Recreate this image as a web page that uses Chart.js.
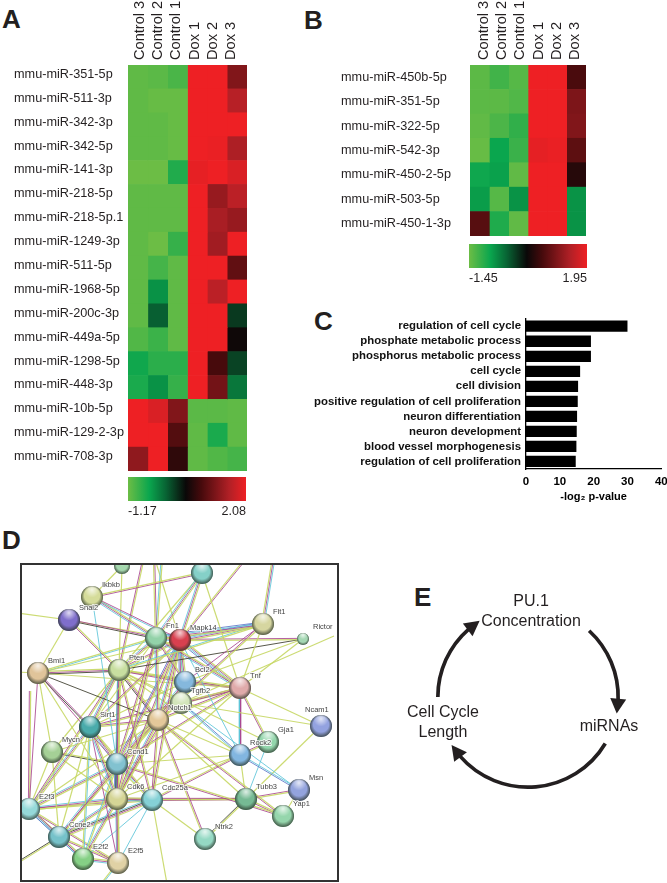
<!DOCTYPE html>
<html>
<head>
<meta charset="utf-8">
<script src="https://cdn.jsdelivr.net/npm/chart.js@4"></script>
<style>
    html, body { margin: 0; padding: 0; background: #fff; width: 667px; height: 883px; overflow: hidden; }
    body { position: relative; font-family: "Liberation Sans", Arial, sans-serif; color: #231f20; }
    canvas { position: absolute; display: block; }
    .letter { position: absolute; font-size: 26px; font-weight: bold; line-height: 26px; }
    .cycle-label { position: absolute; font-size: 16px; line-height: 20px; text-align: center; transform: translateX(-50%); white-space: nowrap; }
    #network-box { position: absolute; left: 20px; top: 563px; width: 319px; height: 319px; box-sizing: border-box; border: 2px solid #333; }
</style>
</head>
<body>
<div class="letter" style="left:2px;top:6px">A</div>
<div class="letter" style="left:304px;top:7px">B</div>
<div class="letter" style="left:314px;top:308px">C</div>
<div class="letter" style="left:2px;top:527px">D</div>
<div class="letter" style="left:414px;top:584px">E</div>

<canvas id="heat-a" width="233" height="491" style="left:14px;top:0"></canvas>
<canvas id="bar-a" width="150" height="46" style="left:113px;top:477px"></canvas>
<canvas id="heat-b" width="245" height="256" style="left:341px;top:0"></canvas>
<canvas id="bar-b" width="150" height="46" style="left:453px;top:244px"></canvas>
<canvas id="go-bars" width="380" height="194" style="left:300px;top:310px"></canvas>
<div id="network-box"><canvas id="network" width="315" height="315" style="left:0;top:0"></canvas></div>
<canvas id="cycle" width="200" height="200" style="left:428px;top:597px"></canvas>

<div class="cycle-label" style="left:531px;top:591px">PU.1<br>Concentration</div>
<div class="cycle-label" style="left:609px;top:716px">miRNAs</div>
<div class="cycle-label" style="left:443px;top:702px">Cell Cycle<br>Length</div>

<script>
Chart.defaults.animation = false;
Chart.defaults.font.family = '"Liberation Sans", Arial, sans-serif';
Chart.defaults.color = '#231f20';
Chart.defaults.plugins.legend.display = false;
Chart.defaults.plugins.tooltip.enabled = false;

const samples = ['Control 3', 'Control 2', 'Control 1', 'Dox 1', 'Dox 2', 'Dox 3'];

const rowsA = ['mmu-miR-351-5p', 'mmu-miR-511-3p', 'mmu-miR-342-3p', 'mmu-miR-342-5p', 'mmu-miR-141-3p',
    'mmu-miR-218-5p', 'mmu-miR-218-5p.1', 'mmu-miR-1249-3p', 'mmu-miR-511-5p', 'mmu-miR-1968-5p',
    'mmu-miR-200c-3p', 'mmu-miR-449a-5p', 'mmu-miR-1298-5p', 'mmu-miR-448-3p', 'mmu-miR-10b-5p',
    'mmu-miR-129-2-3p', 'mmu-miR-708-3p'];
const valuesA = [
    [-1.10, -1.07, -0.97, 2.08, 2.08, 1.27],
    [-1.10, -1.14, -1.14, 2.08, 2.08, 1.66],
    [-1.10, -1.10, -1.14, 2.08, 2.08, 2.08],
    [-1.10, -1.10, -1.14, 2.08, 2.05, 1.59],
    [-1.17, -1.17, -0.72, 2.02, 2.08, 1.92],
    [-1.10, -1.10, -1.10, 2.08, 1.43, 1.69],
    [-1.10, -1.10, -1.10, 2.08, 1.56, 1.43],
    [-1.10, -1.17, -0.85, 2.08, 1.50, 2.08],
    [-1.10, -0.94, -1.10, 2.08, 2.08, 1.04],
    [-1.10, -0.45, -1.10, 2.08, 1.69, 2.08],
    [-1.10, -0.10, -1.10, 2.08, 2.08, 0.13],
    [-1.01, -0.88, -1.10, 2.08, 2.08, 0.46],
    [-0.62, -0.78, -0.78, 2.08, 0.85, 0.07],
    [-0.68, -0.45, -0.85, 2.08, 1.17, -0.26],
    [2.08, 1.92, 1.27, -1.07, -1.07, -1.10],
    [2.08, 2.08, 0.94, -1.10, -0.68, -1.10],
    [1.37, 2.08, 0.68, -1.10, -1.01, -0.94]
];
const rangeA = [-1.17, 2.08];

const rowsB = ['mmu-miR-450b-5p', 'mmu-miR-351-5p', 'mmu-miR-322-5p', 'mmu-miR-542-3p',
    'mmu-miR-450-2-5p', 'mmu-miR-503-5p', 'mmu-miR-450-1-3p'];
const valuesB = [
    [-1.35, -1.18, -1.31, 1.95, 1.95, 0.69],
    [-1.35, -1.35, -1.28, 1.95, 1.95, 1.07],
    [-1.38, -1.25, -1.08, 1.95, 1.95, 1.10],
    [-1.42, -0.84, -1.14, 1.88, 1.92, 0.83],
    [-0.87, -0.80, -1.38, 1.95, 1.95, 0.42],
    [-0.77, -1.31, -0.70, 1.95, 1.95, -0.70],
    [0.79, -0.97, -1.38, 1.95, 1.95, -0.70]
];
const rangeB = [-1.45, 1.95];

const goTerms = ['regulation of cell cycle', 'phosphate metabolic process', 'phosphorus metabolic process',
    'cell cycle', 'cell division', 'positive regulation of cell proliferation', 'neuron differentiation',
    'neuron development', 'blood vessel morphogenesis', 'regulation of cell proliferation'];
const goValues = [30, 19.2, 19.2, 16, 15.4, 15.3, 15.1, 15, 14.9, 14.7];

// network layout, in units of the STRING box. names starting with _ have no label
const geneNames = ['_a', '_b', 'Ikbkb', 'Snai2', 'Fn1', 'Mapk14', 'Flt1', 'Rictor', 'Bmi1', 'Pten', 'Bcl2', 'Tgfb2', 'Tnf',
    'Sirt1', 'Notch1', 'Mycn', 'Ccnd1', 'Rock2', 'Gja1', 'Ncam1', 'Msn', 'Tubb3', 'Yap1', 'Ntrk2', 'Cdk6', 'Cdc25a',
    'E2f3', 'Ccne2', 'E2f2', 'E2f5'];
const geneX = [100, 180, 70, 47, 134, 158, 241, 281, 16, 97, 163, 159, 218, 68, 136, 30, 95, 218, 246, 299, 277, 224, 261, 183, 95, 130, 7, 37, 61, 96];
const geneY = [1, 8, 32, 55, 73, 75, 59, 74, 108, 105, 117, 138, 123, 162, 155, 187, 199, 190, 177, 161, 225, 234, 251, 274, 234, 235, 244, 272, 294, 298];
const geneColors = ['#a5d8ae', '#85d0c8', '#d5dc9a', '#7f6ecb', '#93d2a9', '#d8404f', '#d6d6a0', '#a5d8b4', '#e0c49a', '#c8dea0',
    '#85b8dd', '#d3e5bb', '#e0aaaa', '#4aabab', '#e3c89a', '#a5d096', '#82c2d0', '#82b6e0', '#93d6ac', '#93a2e0',
    '#93a3dd', '#76ba94', '#95d6ac', '#95d9c4', '#d5d596', '#85d1d6', '#95d9d9', '#76c2ca', '#85d085', '#e0d1a5'];
const smallGenes = { Rictor: 6, _a: 8 };

// edges that leave the box
const exitNames = ['t1', 't2', 't3', 't4', 't5', 't6', 'b1', 'b2', 'l1', 'l2', 'l3', 'l4', 'r1'];
const exitX = [122, 132, 140, 226, 252, 194, 71, 147, -5, -5, -5, 8, 312];
const exitY = [-9, -9, -9, -9, -9, -9, 330, 330, 298, 107, 48, 126, 71];

// from, to, evidence channels: y text, m experiments, c database, k coexpression, b homology
const edges = [
    ['Snai2', 'Fn1', 'mk'], ['Snai2', 'Mapk14', 'y'], ['Snai2', 'Pten', 'ym'], ['Snai2', 'Bmi1', 'y'], ['Snai2', 'l3', 'y'],
    ['Ikbkb', '_b', 'ym'], ['Ikbkb', 'Mapk14', 'mc'], ['Ikbkb', 'Fn1', 'ymc'], ['Ikbkb', 'Ccnd1', 'c'], ['_a', 'Pten', 'y'], ['_a', 'Ikbkb', 'y'],
    ['_b', 'Fn1', 'ymc'], ['_b', 'Mapk14', 'ymc'], ['_b', 'Pten', 'y'], ['_b', 'Tnf', 'y'], ['_b', 't6', 'y'],
    ['Flt1', 'Fn1', 'ymcb'], ['Flt1', 'Mapk14', 'ymcb'], ['Flt1', 'Tnf', 'y'], ['Flt1', 'Bcl2', 'm'], ['Flt1', 'Pten', 'yc'], ['Flt1', 't5', 'ymc'], ['Flt1', 'Notch1', 'ym'],
    ['Rictor', 'Mapk14', 'ym'], ['Rictor', 'Pten', 'k'], ['Rictor', 'Bcl2', 'y'], ['r1', 'Tgfb2', 'y'], ['Rictor', 'Tnf', 'y'],
    ['Fn1', 'Mapk14', 'ymc'], ['Fn1', 'Pten', 'ymc'], ['Fn1', 'Bcl2', 'ym'], ['Fn1', 'Tnf', 'ymc'], ['Fn1', 'Notch1', 'ymc'], ['Fn1', 'Cdk6', 'ym'], ['Fn1', 'Ccnd1', 'ym'], ['Fn1', 'Sirt1', 'y'], ['Fn1', 't2', 'ym'], ['Fn1', 't3', 'cy'],
    ['Mapk14', 'Pten', 'ym'], ['Mapk14', 'Bcl2', 'ymc'], ['Mapk14', 'Tgfb2', 'ymb'], ['Mapk14', 'Tnf', 'ymcb'], ['Mapk14', 'Notch1', 'ymc'], ['Mapk14', 'Sirt1', 'ym'], ['Mapk14', 'Ccnd1', 'ymb'], ['Mapk14', 'Cdk6', 'ym'], ['Mapk14', 'Cdc25a', 'ym'], ['Mapk14', 'Rock2', 'c'], ['Mapk14', 'Bmi1', 'y'], ['Mapk14', 't4', 'ym'], ['Mapk14', 't2', 'y'],
    ['Bmi1', 'Pten', 'ymk'], ['Bmi1', 'Fn1', 'yc'], ['Bmi1', 'Sirt1', 'mk'], ['Bmi1', 'Notch1', 'k'], ['Bmi1', 'Tnf', 'y'], ['Bmi1', 'Cdk6', 'y'], ['Bmi1', 'Ccnd1', 'm'], ['Bmi1', 'E2f3', 'm'], ['Bmi1', 'Mycn', 'y'], ['Bmi1', 'l2', 'y'],
    ['Pten', 't1', 'my'], ['Pten', 'Tgfb2', 'y'], ['Pten', 'Bcl2', 'ym'], ['Pten', 'Tnf', 'ym'], ['Pten', 'Notch1', 'ymk'], ['Pten', 'Sirt1', 'ymc'], ['Pten', 'Ccnd1', 'ymc'], ['Pten', 'Cdk6', 'ymk'], ['Pten', 'Mycn', 'y'], ['Pten', 'E2f3', 'ym'], ['Pten', 'Cdc25a', 'ym'], ['Pten', 'Rock2', 'y'], ['Pten', 'Gja1', 'y'],
    ['Bcl2', 'Notch1', 'ym'], ['Bcl2', 'Tnf', 'ym'], ['Bcl2', 'Tgfb2', 'y'], ['Bcl2', 'Sirt1', 'y'], ['Bcl2', 'Cdk6', 'ym'], ['Bcl2', 'Ccnd1', 'ymc'],
    ['Tgfb2', 'Notch1', 'ym'], ['Tgfb2', 'Tnf', 'ym'], ['Tgfb2', 'Ncam1', 'y'], ['Tgfb2', 'Rock2', 'bc'], ['Tgfb2', 'Msn', 'c'],
    ['Tnf', 'Notch1', 'ym'], ['Tnf', 'Ncam1', 'y'], ['Tnf', 'Gja1', 'ym'], ['Tnf', 'Rock2', 'mc'], ['Tnf', 'Sirt1', 'ym'], ['Tnf', 'Ccnd1', 'ym'], ['Tnf', 'Cdk6', 'y'],
    ['Notch1', 'Sirt1', 'ym'], ['Notch1', 'Ccnd1', 'ym'], ['Notch1', 'Cdk6', 'ymc'], ['Notch1', 'Cdc25a', 'ym'], ['Notch1', 'Rock2', 'y'], ['Notch1', 'Ntrk2', 'my'], ['Notch1', 'Tubb3', 'y'], ['Notch1', 'Yap1', 'ym'], ['Notch1', 'Mycn', 'y'], ['Notch1', 'Ccne2', 'ym'], ['Notch1', 'E2f3', 'y'],
    ['Sirt1', 'Cdk6', 'ymc'], ['Sirt1', 'Ccnd1', 'ymc'], ['Sirt1', 'E2f2', 'cy'], ['Sirt1', 'E2f3', 'ymc'], ['Sirt1', 'Ccne2', 'y'], ['Sirt1', 'E2f5', 'm'], ['Sirt1', 'Cdc25a', 'ym'],
    ['Mycn', 'Ccnd1', 'yk'], ['Mycn', 'Cdk6', 'y'], ['Mycn', 'E2f3', 'y'], ['Mycn', 'Ccne2', 'y'],
    ['Ccnd1', 'Cdk6', 'ymcb'], ['Ccnd1', 'Cdc25a', 'mcy'], ['Ccnd1', 'E2f3', 'ymc'], ['Ccnd1', 'E2f2', 'yc'], ['Ccnd1', 'E2f5', 'ym'], ['Ccnd1', 'Ccne2', 'ymc'], ['Ccnd1', 'Rock2', 'y'], ['Ccnd1', 'Yap1', 'ym'],
    ['Cdk6', 'Cdc25a', 'ymc'], ['Cdk6', 'E2f3', 'ymc'], ['Cdk6', 'Ccne2', 'ymc'], ['Cdk6', 'E2f2', 'ymc'], ['Cdk6', 'E2f5', 'ymc'], ['Cdk6', 'Tubb3', 'my'], ['Cdk6', 'Rock2', 'y'],
    ['Cdc25a', 'Ccne2', 'ymkc'], ['Cdc25a', 'E2f3', 'ym'], ['Cdc25a', 'E2f2', 'c'], ['Cdc25a', 'E2f5', 'c'], ['Cdc25a', 'Tubb3', 'ym'], ['Cdc25a', 'Rock2', 'ym'], ['Cdc25a', 'Ntrk2', 'y'], ['Cdc25a', 'b2', 'y'],
    ['E2f3', 'Ccne2', 'mcb'], ['E2f3', 'E2f2', 'ymc'], ['E2f3', 'E2f5', 'ym'], ['E2f3', 'l4', 'my'], ['Ccne2', 'E2f2', 'cmb'], ['Ccne2', 'E2f5', 'ym'], ['E2f2', 'E2f5', 'ymc'], ['Ccne2', 'l1', 'yk'], ['E2f5', 'b1', 'cy'],
    ['Rock2', 'Msn', 'cb'], ['Rock2', 'Tubb3', 'y'], ['Gja1', 'Tubb3', 'c'], ['Gja1', 'Rock2', 'ym'], ['Msn', 'Tubb3', 'ym'], ['Msn', 'Yap1', 'y'], ['Tubb3', 'Yap1', 'ym'], ['Tubb3', 'Ntrk2', 'yk'], ['Ncam1', 'Tubb3', 'y']
];
const channelColors = { y: 'rgba(198,215,100,0.9)', m: 'rgba(168,69,143,0.85)', c: 'rgba(92,196,216,0.85)', k: 'rgba(58,58,42,0.85)', b: 'rgba(90,118,200,0.85)' };

// cycle in panel E, degrees clockwise from the top: gap, arrow, gap, arrow, gap, arrow, gap
const cycleDegrees = [42.7, 49, 29.3, 108, 41, 48.7, 41.3];

const rampStops = [0, 0.18, 0.32, 0.49, 0.62, 0.86, 1];
const rampColors = [[108, 189, 69], [10, 166, 78], [8, 100, 52], [10, 8, 8], [70, 10, 12], [178, 32, 38], [238, 32, 36]];

function rampColor(t) {
    t = Math.min(1, Math.max(0, t));
    let i = 0;
    while (i < rampStops.length - 2 && t > rampStops[i + 1]) i++;
    const f = (t - rampStops[i]) / (rampStops[i + 1] - rampStops[i]);
    const c = rampColors[i].map((v, k) => Math.round(v + (rampColors[i + 1][k] - v) * f));
    return 'rgb(' + c.join(',') + ')';
}

// header labels sit closer together than the columns, so they get their own axis
function drawHeatmap(canvasId, rows, values, range, labelWidth, headerSpan, headerShift, bottomPad, rowLift) {
    const span = range[1] - range[0];
    new Chart(document.getElementById(canvasId), {
        type: 'bar',
        data: {
            labels: rows,
            datasets: samples.map((name, col) => ({
                label: name,
                data: rows.map(() => 1),
                backgroundColor: values.map(row => rampColor((row[col] - range[0]) / span)),
                borderWidth: 0,
                barPercentage: 1,
                categoryPercentage: 1,
                xAxisID: 'x',
                yAxisID: 'y'
            }))
        },
        options: {
            indexAxis: 'y',
            responsive: false,
            layout: { padding: { bottom: bottomPad } },
            scales: {
                x: { display: false, stacked: true, min: 0, max: samples.length },
                y: {
                    stacked: true,
                    grid: { display: false, drawTicks: false },
                    border: { display: false },
                    ticks: { crossAlign: 'far', autoSkip: false, padding: 0, font: { size: 12.7 } },
                    beforeUpdate: function (scale) {
                        // row names sit a little above the middle of their row
                        const base = Object.getPrototypeOf(scale).getPixelForTick;
                        scale.getPixelForTick = i => base.call(scale, i) - rowLift;
                    },
                    afterFit: function (scale) { scale.width = labelWidth; }
                },
                top: {
                    type: 'linear',
                    axis: 'x',
                    position: 'top',
                    min: 0,
                    max: headerSpan,
                    grid: { display: false, drawTicks: false },
                    border: { display: false },
                    afterBuildTicks: function (scale) { scale.ticks = samples.map((n, i) => ({ value: i + 0.5 })); },
                    ticks: {
                        minRotation: 90,
                        maxRotation: 90,
                        autoSkip: false,
                        padding: 5,
                        labelOffset: headerShift,
                        font: { size: 14.6 },
                        callback: function (v, i) { return samples[i]; }
                    },
                    afterFit: function (scale) { scale.height = 65; }
                }
            }
        }
    });
}

function drawColorBar(canvasId, range, padLeft, barHeight) {
    new Chart(document.getElementById(canvasId), {
        type: 'bar',
        data: {
            labels: ['scale'],
            datasets: [{
                data: [[range[0], range[1]]],
                barPercentage: 1,
                categoryPercentage: 1,
                borderWidth: 0,
                backgroundColor: function (context) {
                    const area = context.chart.chartArea;
                    if (!area) return '#000';
                    const g = context.chart.ctx.createLinearGradient(area.left, 0, area.right, 0);
                    rampStops.forEach(stop => g.addColorStop(stop, rampColor(stop)));
                    return g;
                }
            }]
        },
        options: {
            indexAxis: 'y',
            responsive: false,
            layout: { padding: { left: padLeft, right: 150 - padLeft - 118 } },
            scales: {
                y: { display: false },
                x: {
                    min: range[0],
                    max: range[1],
                    grid: { display: false, drawTicks: false },
                    border: { display: false },
                    afterBuildTicks: function (scale) { scale.ticks = range.map(v => ({ value: v })); },
                    ticks: {
                        align: 'inner',
                        maxRotation: 0,
                        autoSkip: false,
                        padding: 3,
                        font: { size: 12.6 },
                        callback: function (v) { return v.toFixed(2); }
                    },
                    afterFit: function (scale) { scale.height = 46 - barHeight; }
                }
            }
        }
    });
}

function drawGoBars() {
    new Chart(document.getElementById('go-bars'), {
        type: 'bar',
        data: {
            labels: goTerms,
            datasets: [{ data: goValues, backgroundColor: '#000', borderWidth: 0, barPercentage: 0.75, categoryPercentage: 1 }]
        },
        options: {
            indexAxis: 'y',
            responsive: false,
            layout: { padding: { top: 8.7, right: 18.7 } },
            scales: {
                x: {
                    min: 0,
                    max: 40,
                    grid: { display: false, tickColor: '#000', tickLength: 4 },
                    border: { color: '#000', width: 1.3 },
                    ticks: { stepSize: 10, maxRotation: 0, color: '#000', padding: 2, font: { size: 11.5, weight: 'bold' } },
                    title: { display: true, text: '-log\u2082 p-value', color: '#000', padding: 0, font: { size: 11, weight: 'bold' } },
                    afterFit: function (scale) { scale.height = 35; }
                },
                y: {
                    grid: { display: false, tickColor: '#000', tickLength: 4 },
                    border: { color: '#000', width: 1.3 },
                    ticks: { autoSkip: false, color: '#111', padding: 1, font: { size: 11.4, weight: 'bold' } },
                    afterFit: function (scale) { scale.width = 226; }
                }
            }
        }
    });
}

function makeSphere(color, radius) {
    const size = radius * 2 + 2;
    const c = document.createElement('canvas');
    c.width = size;
    c.height = size;
    const ctx = c.getContext('2d');
    const mid = size / 2;
    ctx.beginPath();
    ctx.arc(mid, mid, radius, 0, Math.PI * 2);
    ctx.fillStyle = color;
    ctx.fill();
    // darker rim, heavier at the bottom
    let g = ctx.createRadialGradient(mid, mid - radius * 0.15, radius * 0.7, mid, mid, radius);
    g.addColorStop(0, 'rgba(40,50,40,0)');
    g.addColorStop(1, 'rgba(40,50,40,0.75)');
    ctx.fillStyle = g;
    ctx.fill();
    // soft light at the top
    g = ctx.createRadialGradient(mid, mid - radius * 0.65, 0, mid, mid - radius * 0.65, radius * 0.7);
    g.addColorStop(0, 'rgba(255,255,255,0.75)');
    g.addColorStop(1, 'rgba(255,255,255,0)');
    ctx.fillStyle = g;
    ctx.fill();
    return c;
}

const geneLabelPlugin = {
    id: 'geneLabels',
    afterDatasetsDraw: function (chart) {
        const ctx = chart.ctx;
        ctx.save();
        ctx.font = '7.5px "Liberation Sans", Arial, sans-serif';
        ctx.textBaseline = 'middle';
        ctx.textAlign = 'left';
        ctx.lineJoin = 'round';
        geneNames.forEach((name, i) => {
            if (name[0] === '_') return;
            const x = chart.scales.x.getPixelForValue(geneX[i]) + (name === 'Ncam1' ? -16 : 10);
            const y = chart.scales.y.getPixelForValue(geneY[i]) - (name === 'Ncam1' ? 16 : 12);
            ctx.strokeStyle = 'rgba(255,255,255,0.8)';
            ctx.lineWidth = 2;
            ctx.strokeText(name, x, y);
            ctx.fillStyle = '#444';
            ctx.fillText(name, x, y);
        });
        ctx.restore();
    }
};

function endPoint(name) {
    let i = geneNames.indexOf(name);
    if (i >= 0) return { x: geneX[i], y: geneY[i] };
    i = exitNames.indexOf(name);
    return { x: exitX[i], y: exitY[i] };
}

function drawNetwork() {
    const datasets = [];
    edges.forEach(edge => {
        const a = endPoint(edge[0]);
        const b = endPoint(edge[1]);
        const len = Math.hypot(b.x - a.x, b.y - a.y);
        const nx = -(b.y - a.y) / len;
        const ny = (b.x - a.x) / len;
        edge[2].split('').forEach((ch, k) => {
            const shift = (k - (edge[2].length - 1) / 2) * 1.3;
            datasets.push({
                data: [{ x: a.x + nx * shift, y: a.y + ny * shift }, { x: b.x + nx * shift, y: b.y + ny * shift }],
                showLine: true,
                borderColor: channelColors[ch],
                borderWidth: ch === 'y' ? 1.2 : 1,
                pointRadius: 0,
                order: 2
            });
        });
    });
    datasets.push({
        data: geneNames.map((n, i) => ({ x: geneX[i], y: geneY[i] })),
        pointStyle: geneNames.map((n, i) => makeSphere(geneColors[i], smallGenes[n] || 11)),
        order: 1
    });
    new Chart(document.getElementById('network'), {
        type: 'scatter',
        data: { datasets: datasets },
        options: {
            responsive: false,
            layout: { padding: 0, autoPadding: false },
            scales: {
                x: { display: false, min: 0, max: 315 },
                y: { display: false, min: 0, max: 315, reverse: true }
            }
        },
        plugins: [geneLabelPlugin]
    });
}

const arrowHeadPlugin = {
    id: 'arrowHeads',
    afterDatasetsDraw: function (chart) {
        const ctx = chart.ctx;
        ctx.save();
        ctx.fillStyle = '#231f20';
        chart.getDatasetMeta(0).data.forEach((arc, i) => {
            if (i % 2 === 0) return;
            const r = (arc.outerRadius + arc.innerRadius) / 2;
            const bx = arc.x + r * Math.cos(arc.endAngle);
            const by = arc.y + r * Math.sin(arc.endAngle);
            const dir = arc.endAngle + Math.PI / 2 + 0.07;
            ctx.save();
            ctx.translate(bx, by);
            ctx.rotate(dir);
            ctx.beginPath();
            ctx.moveTo(14, 0);
            ctx.lineTo(-1, -8);
            ctx.lineTo(-1, 8);
            ctx.closePath();
            ctx.fill();
            ctx.restore();
        });
        ctx.restore();
    }
};

function drawCycle() {
    new Chart(document.getElementById('cycle'), {
        type: 'doughnut',
        data: {
            labels: cycleDegrees.map((d, i) => i),
            datasets: [{
                data: cycleDegrees,
                backgroundColor: cycleDegrees.map((d, i) => i % 2 ? '#231f20' : 'rgba(0,0,0,0)'),
                borderWidth: 0
            }]
        },
        options: { responsive: false, radius: 92, cutout: '96%', layout: { padding: 0 } },
        plugins: [arrowHeadPlugin]
    });
}

drawHeatmap('heat-a', rowsA, valuesA, rangeA, 114, 6.5, 20, 20, 2.5);
drawColorBar('bar-a', rangeA, 15, 24);
drawHeatmap('heat-b', rowsB, valuesB, rangeB, 129, 6.34, 22, 20, 0);
drawColorBar('bar-b', rangeB, 16, 24);
drawGoBars();
drawNetwork();
drawCycle();
</script>
</body>
</html>
